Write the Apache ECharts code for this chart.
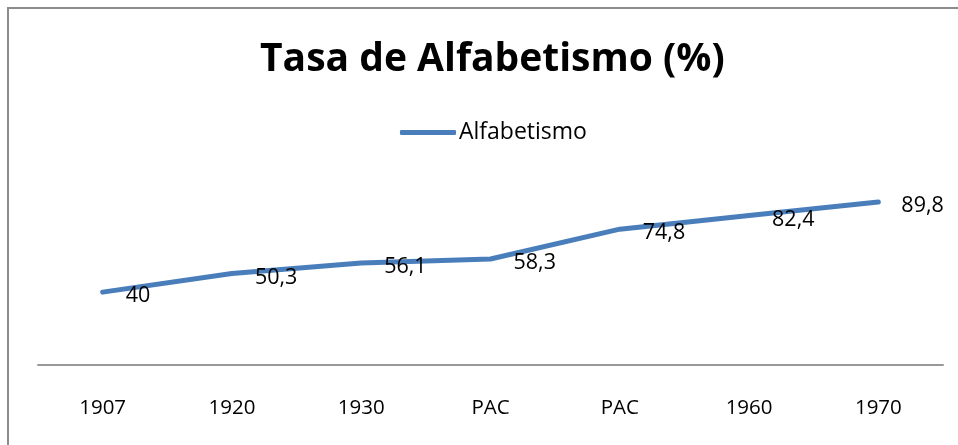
<!DOCTYPE html>
<html>
<head>
<meta charset="utf-8">
<script src="https://cdn.jsdelivr.net/npm/echarts@6/dist/echarts.min.js"></script>
<style>
html, body { margin: 0; padding: 0; background: #fff; }
#chart { width: 958px; height: 445px; }
</style>
</head>
<body>
<div id="chart"></div>
<script>
(function(){

var years = ['1907', '1920', '1930', 'PAC', 'PAC', '1960', '1970']
var literacy = [40, 50.3, 56.1, 58.3, 74.8, 82.4, 89.8]
var seriesName = 'Alfabetismo'
var titleText = 'Tasa de Alfabetismo (%)'

var font = '"Open Sans", "Noto Sans", sans-serif'

window.onload = function() {
	var chart = echarts.init(document.getElementById('chart'), null, {renderer: 'canvas'})

	chart.setOption({
		backgroundColor: '#fff',
		animation: false,
		title: {
			text: titleText,
			left: 255,
			top: 35,
			textStyle: {fontFamily: font, fontWeight: 'bold', fontSize: 39, color: '#000'}
		},
		legend: {
			data: [seriesName],
			top: 116,
			left: 395,
			itemWidth: 56,
			itemHeight: 5,
			itemGap: 4,
			icon: 'roundRect',
			textStyle: {fontFamily: font, fontSize: 23, color: '#000', padding: [0, 0, 0, -2]}
		},
		grid: {left: 38, right: 15, top: 183.6, bottom: 80.5},
		xAxis: {
			type: 'category',
			data: years,
			boundaryGap: true,
			axisLine: {lineStyle: {color: '#999', width: 2}},
			axisTick: {show: false},
			axisLabel: {fontFamily: font, fontSize: 20.5, color: '#000', margin: 33}
		},
		yAxis: {
			type: 'value',
			min: 0,
			max: 100,
			show: false,
			splitLine: {show: false}
		},
		graphic: [{
			type: 'rect',
			shape: {x: 8, y: 8, width: 970, height: 460},
			style: {fill: 'none', stroke: '#8c8c8c', lineWidth: 2},
			silent: true
		}],
		series: [{
			name: seriesName,
			type: 'line',
			data: literacy,
			showSymbol: true,
			symbol: 'circle',
			symbolSize: 2,
			color: '#4a7ebb',
			itemStyle: {color: '#4a7ebb'},
			lineStyle: {width: 5, color: '#4a7ebb', cap: 'round', join: 'round'},
			label: {
				show: true,
				position: 'right',
				distance: 22,
				offset: [0, 4],
				fontFamily: font,
				fontSize: 21.5,
				color: '#000',
				formatter: function(p) { return String(p.value).replace('.', ',') }
			}
		}]
	})
}

})()
</script>
</body>
</html>
